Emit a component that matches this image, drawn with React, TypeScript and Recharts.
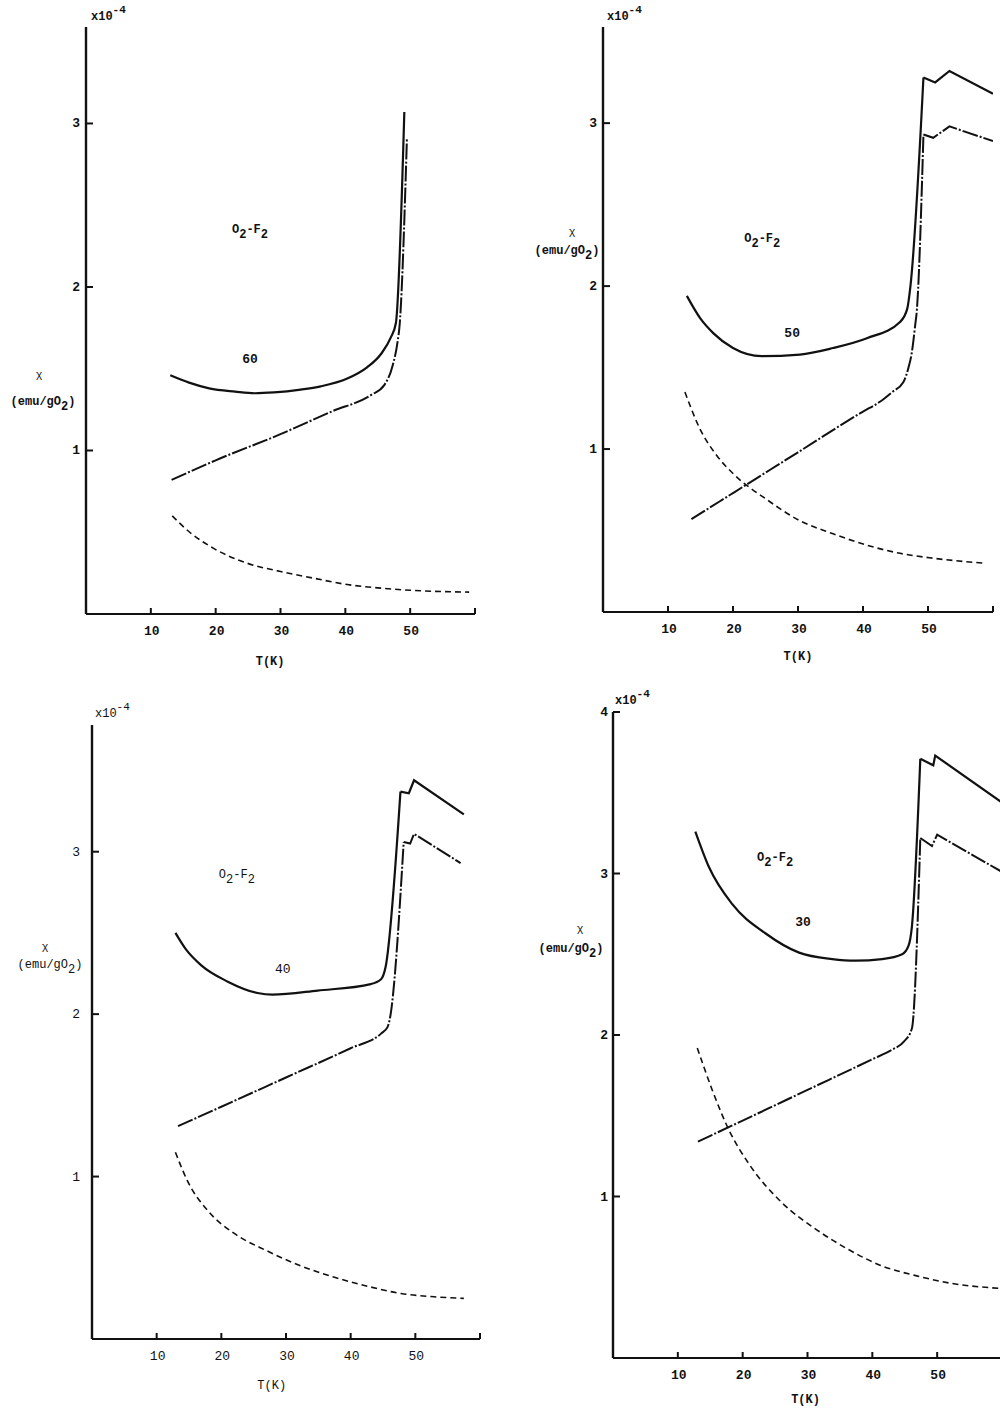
import React from 'react';
import { LineChart, Line, XAxis, YAxis, ReferenceDot } from 'recharts';

type Pt = { t: number; v: number };
type Seg = [string, ('sub' | 'sup')?];

const INK = '#111';
const FONT = '"Liberation Mono", "DejaVu Sans Mono", monospace';

// temperature ticks (K); 60 only closes the axis
const tempTicks = [10, 20, 30, 40, 50, 60];
const chiTicks = [1, 2, 3];
const chiTicksTall = [1, 2, 3, 4];

const curveLabels = ['60', '50', '40', '30'];

// chi in units of 1e-4 emu/gO2
const solid60: Pt[] = [
  { t: 13.0, v: 1.46 }, { t: 15.9, v: 1.415 }, { t: 19.0, v: 1.38 }, { t: 23.0, v: 1.36 },
  { t: 26.0, v: 1.35 }, { t: 29.0, v: 1.355 }, { t: 33.1, v: 1.372 }, { t: 36.2, v: 1.392 },
  { t: 40.3, v: 1.44 }, { t: 43.4, v: 1.51 }, { t: 45.5, v: 1.59 }, { t: 47.0, v: 1.69 },
  { t: 47.8, v: 1.78 }, { t: 49.1, v: 3.07 },
];
const dashDot60: Pt[] = [
  { t: 13.2, v: 0.82 }, { t: 20, v: 0.94 }, { t: 30, v: 1.1 }, { t: 38, v: 1.24 },
  { t: 44.0, v: 1.34 }, { t: 46.0, v: 1.4 }, { t: 47.3, v: 1.52 }, { t: 48.0, v: 1.65 },
  { t: 48.4, v: 1.78 }, { t: 49.5, v: 2.91 },
];
const dashed60: Pt[] = [
  { t: 13.3, v: 0.6 }, { t: 16, v: 0.5 }, { t: 19.75, v: 0.4 }, { t: 24.9, v: 0.31 },
  { t: 30, v: 0.26 }, { t: 35, v: 0.22 }, { t: 40.3, v: 0.18 }, { t: 45, v: 0.16 },
  { t: 50.1, v: 0.145 }, { t: 55, v: 0.137 }, { t: 59.1, v: 0.134 },
];

const solid50: Pt[] = [
  { t: 12.9, v: 1.94 }, { t: 15, v: 1.8 }, { t: 17, v: 1.71 }, { t: 20, v: 1.62 },
  { t: 24.4, v: 1.57 }, { t: 30.3, v: 1.58 }, { t: 35.4, v: 1.62 }, { t: 40.6, v: 1.68 },
  { t: 45.7, v: 1.78 }, { t: 46.8, v: 1.86 }, { t: 47.3, v: 2.0 }, { t: 49.3, v: 3.28 },
];
const solid50Tail: Pt[] = [
  { t: 49.3, v: 3.28 }, { t: 51.1, v: 3.25 }, { t: 53.3, v: 3.32 }, { t: 60, v: 3.18 },
];
const dashDot50: Pt[] = [
  { t: 13.6, v: 0.57 }, { t: 20, v: 0.73 }, { t: 30, v: 0.98 }, { t: 40, v: 1.23 },
  { t: 42.6, v: 1.29 }, { t: 44.5, v: 1.35 }, { t: 46.2, v: 1.41 }, { t: 47.0, v: 1.5 },
  { t: 47.5, v: 1.59 }, { t: 48.0, v: 1.75 }, { t: 48.3, v: 1.86 }, { t: 49.3, v: 2.93 },
];
const dashDot50Tail: Pt[] = [
  { t: 49.3, v: 2.93 }, { t: 50.8, v: 2.91 }, { t: 53.3, v: 2.98 }, { t: 60, v: 2.89 },
];
const dashed50: Pt[] = [
  { t: 12.6, v: 1.35 }, { t: 14.9, v: 1.125 }, { t: 17.5, v: 0.96 }, { t: 20, v: 0.85 },
  { t: 25.2, v: 0.69 }, { t: 30.3, v: 0.56 }, { t: 35.4, v: 0.48 }, { t: 40.6, v: 0.41 },
  { t: 45.7, v: 0.36 }, { t: 50.8, v: 0.33 }, { t: 58.5, v: 0.3 },
];

const solid40: Pt[] = [
  { t: 12.9, v: 2.5 }, { t: 14.5, v: 2.4 }, { t: 16.9, v: 2.3 }, { t: 21.0, v: 2.2 },
  { t: 25.6, v: 2.13 }, { t: 27.9, v: 2.12 }, { t: 34.9, v: 2.145 }, { t: 43.1, v: 2.185 },
  { t: 44.7, v: 2.215 }, { t: 45.4, v: 2.29 }, { t: 47.7, v: 3.37 },
];
const solid40Tail: Pt[] = [
  { t: 47.7, v: 3.37 }, { t: 49.0, v: 3.36 }, { t: 49.8, v: 3.44 }, { t: 57.5, v: 3.23 },
];
const dashDot40: Pt[] = [
  { t: 13.3, v: 1.31 }, { t: 20, v: 1.43 }, { t: 30, v: 1.61 }, { t: 40, v: 1.79 },
  { t: 44.7, v: 1.88 }, { t: 45.7, v: 1.92 }, { t: 46.0, v: 1.96 }, { t: 48.2, v: 3.06 },
];
const dashDot40Tail: Pt[] = [
  { t: 48.2, v: 3.06 }, { t: 49.2, v: 3.05 }, { t: 49.8, v: 3.11 }, { t: 57.0, v: 2.93 },
];
const dashed40: Pt[] = [
  { t: 12.9, v: 1.15 }, { t: 14.8, v: 0.97 }, { t: 17.9, v: 0.79 }, { t: 22.0, v: 0.65 },
  { t: 27.2, v: 0.54 }, { t: 32.3, v: 0.45 }, { t: 37.5, v: 0.38 }, { t: 42.6, v: 0.325 },
  { t: 47.8, v: 0.28 }, { t: 52.9, v: 0.26 }, { t: 57.5, v: 0.25 },
];

const solid30: Pt[] = [
  { t: 12.7, v: 3.26 }, { t: 14.8, v: 3.04 }, { t: 18.4, v: 2.81 }, { t: 23.5, v: 2.63 },
  { t: 28.7, v: 2.51 }, { t: 33.8, v: 2.47 }, { t: 37.4, v: 2.46 }, { t: 41.5, v: 2.47 },
  { t: 44.6, v: 2.5 }, { t: 45.6, v: 2.555 }, { t: 46.1, v: 2.67 }, { t: 47.4, v: 3.71 },
];
const solid30Tail: Pt[] = [
  { t: 47.4, v: 3.71 }, { t: 49.4, v: 3.67 }, { t: 49.7, v: 3.73 }, { t: 60, v: 3.44 },
];
const dashDot30: Pt[] = [
  { t: 13.1, v: 1.34 }, { t: 20, v: 1.47 }, { t: 30, v: 1.66 }, { t: 40, v: 1.85 },
  { t: 43.1, v: 1.91 }, { t: 44.9, v: 1.96 }, { t: 46.1, v: 2.04 }, { t: 47.4, v: 3.22 },
];
const dashDot30Tail: Pt[] = [
  { t: 47.4, v: 3.22 }, { t: 49.2, v: 3.17 }, { t: 50.0, v: 3.24 }, { t: 60, v: 3.01 },
];
const dashed30: Pt[] = [
  { t: 13.0, v: 1.92 }, { t: 15.3, v: 1.66 }, { t: 17.9, v: 1.41 }, { t: 21.0, v: 1.2 },
  { t: 26.1, v: 0.96 }, { t: 31.2, v: 0.8 }, { t: 36.4, v: 0.67 }, { t: 41.5, v: 0.57 },
  { t: 46.7, v: 0.51 }, { t: 51.8, v: 0.465 }, { t: 60, v: 0.43 },
];

const formula: Seg[] = [['O'], ['2', 'sub'], ['-F'], ['2', 'sub']];
const unitText: Seg[] = [['(emu/gO'], ['2', 'sub'], [')']];
const expText: Seg[] = [['x10'], ['-4', 'sup']];

// page layout of each panel: axis corner, plot size, label spots
const panels = [
  {
    id: 'a', tag: curveLabels[0], axisX: 86, axisY: 614, top: 27, plotW: 389, yMax: 3.59,
    yTicks: chiTicks, tickDx: -6, bold: true,
    solid: solid60, solidTail: [] as Pt[], dashDot: dashDot60, dashDotTail: [] as Pt[], dashed: dashed60,
    formulaAt: { t: 25.3, v: 2.34 }, tagAt: { t: 25.3, v: 1.56 },
    chiAt: { dx: -47, v: 1.47 }, unitAt: { dx: -43, v: 1.3 }, kAt: { t: 28.4, dy: 51 }, expAt: { dx: 5, dy: -7 },
  },
  {
    id: 'b', tag: curveLabels[1], axisX: 603, axisY: 612, top: 27, plotW: 390, yMax: 3.59,
    yTicks: chiTicks, tickDx: -6, bold: true,
    solid: solid50, solidTail: solid50Tail, dashDot: dashDot50, dashDotTail: dashDot50Tail, dashed: dashed50,
    formulaAt: { t: 24.5, v: 2.28 }, tagAt: { t: 29.1, v: 1.71 },
    chiAt: { dx: -31, v: 2.34 }, unitAt: { dx: -36, v: 2.22 }, kAt: { t: 30, dy: 48 }, expAt: { dx: 4, dy: -7 },
  },
  {
    id: 'c', tag: curveLabels[2], axisX: 92, axisY: 1339, top: 725, plotW: 388, yMax: 3.78,
    yTicks: chiTicks, tickDx: -12, bold: false,
    solid: solid40, solidTail: solid40Tail, dashDot: dashDot40, dashDotTail: dashDot40Tail, dashed: dashed40,
    formulaAt: { t: 22.4, v: 2.85 }, tagAt: { t: 29.5, v: 2.28 },
    chiAt: { dx: -47, v: 2.42 }, unitAt: { dx: -42, v: 2.31 }, kAt: { t: 27.8, dy: 50 }, expAt: { dx: 3, dy: -8 },
  },
  {
    id: 'd', tag: curveLabels[3], axisX: 613, axisY: 1358, top: 712, plotW: 389, yMax: 4,
    yTicks: chiTicksTall, tickDx: -5, bold: true,
    solid: solid30, solidTail: solid30Tail, dashDot: dashDot30, dashDotTail: dashDot30Tail, dashed: dashed30,
    formulaAt: { t: 25, v: 3.09 }, tagAt: { t: 29.3, v: 2.7 },
    chiAt: { dx: -33, v: 2.66 }, unitAt: { dx: -42, v: 2.54 }, kAt: { t: 29.7, dy: 45 }, expAt: { dx: 2, dy: -8 },
  },
];

type TagProps = {
  viewBox?: { x: number; y: number; width?: number; height?: number };
  segs: Seg[];
  dx?: number;
  dy?: number;
  anchor?: 'start' | 'middle' | 'end';
  size?: number;
  bold?: boolean;
};

// text with sub/superscripts, placed around a reference point
const Tag = ({ viewBox, segs, dx = 0, dy = 0, anchor = 'middle', size = 12, bold = true }: TagProps) => {
  if (!viewBox) return null;
  const x = viewBox.x + (viewBox.width || 0) / 2 + dx;
  const y = viewBox.y + (viewBox.height || 0) / 2 + dy;
  let shift = 0;
  return (
    <text x={x} y={y} textAnchor={anchor} fontFamily={FONT} fontSize={size}
      fontWeight={bold ? 'bold' : 'normal'} fill={INK}>
      {segs.map(([s, kind], i) => {
        const target = kind === 'sub' ? 5 : kind === 'sup' ? -7 : 0;
        const d = target - shift;
        shift = target;
        return (
          <tspan key={i} dy={d} fontSize={kind === 'sup' ? size - 1 : size}>{s}</tspan>
        );
      })}
    </text>
  );
};

const TempTick = (props: any) => {
  const { x, y, payload, bold } = props;
  return (
    <g>
      <line x1={x} y1={y} x2={x} y2={y - 6} stroke={INK} strokeWidth={2} />
      {payload.value !== 60 && (
        <text x={x + 1} y={y + 21} textAnchor="middle" fontFamily={FONT} fontSize={13}
          fontWeight={bold ? 'bold' : 'normal'} fill={INK}>
          {payload.value}
        </text>
      )}
    </g>
  );
};

const ChiTick = (props: any) => {
  const { x, y, payload, bold, dx } = props;
  return (
    <g>
      <line x1={x} y1={y} x2={x + 7} y2={y} stroke={INK} strokeWidth={2} />
      <text x={x + dx} y={y + 4} textAnchor="end" fontFamily={FONT} fontSize={13}
        fontWeight={bold ? 'bold' : 'normal'} fill={INK}>
        {payload.value}
      </text>
    </g>
  );
};

const Panel = ({ p }: { p: (typeof panels)[number] }) => {
  const plotH = p.axisY - p.top;
  const W = 100 + p.plotW + 20;
  const H = 40 + plotH + 70;
  const lineBase = { type: 'monotone' as const, dataKey: 'v', dot: false, activeDot: false, isAnimationActive: false };
  const solidStyle = { stroke: INK, strokeWidth: 2.2 };
  const dashDotStyle = { stroke: INK, strokeWidth: 2, strokeDasharray: '16 2 2 2' };
  const dashedStyle = { stroke: INK, strokeWidth: 1.6, strokeDasharray: '6 4' };
  const mark = { r: 0, fill: 'none', stroke: 'none', ifOverflow: 'visible' as const };

  return (
    <div style={{ position: 'absolute', left: p.axisX - 100, top: p.top - 40, width: W, height: H }}>
      <LineChart width={W} height={H} margin={{ top: 40, right: 20, bottom: 0, left: 0 }}>
        <XAxis type="number" dataKey="t" domain={[0, 60]} ticks={tempTicks} interval={0}
          allowDataOverflow height={70} tickSize={0} tickMargin={0} tickLine={false}
          axisLine={{ stroke: INK, strokeWidth: 2 }} tick={<TempTick bold={p.bold} />} />
        <YAxis type="number" domain={[0, p.yMax]} ticks={p.yTicks} interval={0}
          allowDataOverflow width={100} tickSize={0} tickMargin={0} tickLine={false}
          axisLine={{ stroke: INK, strokeWidth: 2.4 }} tick={<ChiTick bold={p.bold} dx={p.tickDx} />} />

        <Line {...lineBase} {...solidStyle} data={p.solid} />
        {p.solidTail.length > 0 && <Line {...lineBase} {...solidStyle} type="linear" data={p.solidTail} />}
        <Line {...lineBase} {...dashDotStyle} data={p.dashDot} />
        {p.dashDotTail.length > 0 && <Line {...lineBase} {...dashDotStyle} type="linear" data={p.dashDotTail} />}
        <Line {...lineBase} {...dashedStyle} data={p.dashed} />

        <ReferenceDot {...mark} x={p.formulaAt.t} y={p.formulaAt.v}
          label={<Tag segs={formula} dy={2} bold={p.bold} />} />
        <ReferenceDot {...mark} x={p.tagAt.t} y={p.tagAt.v}
          label={<Tag segs={[[p.tag]]} dy={4} size={13} bold={p.bold} />} />
        <ReferenceDot {...mark} x={0} y={p.chiAt.v}
          label={<Tag segs={[['χ']]} dx={p.chiAt.dx} dy={4} size={11} bold={false} />} />
        <ReferenceDot {...mark} x={0} y={p.unitAt.v}
          label={<Tag segs={unitText} dx={p.unitAt.dx} dy={4} bold={p.bold} />} />
        <ReferenceDot {...mark} x={0} y={p.yMax}
          label={<Tag segs={expText} dx={p.expAt.dx} dy={p.expAt.dy} anchor="start" bold={p.bold} />} />
        <ReferenceDot {...mark} x={p.kAt.t} y={0}
          label={<Tag segs={[['T(K)']]} dy={p.kAt.dy} bold={p.bold} />} />
      </LineChart>
    </div>
  );
}

export default function App() {
  return (
    <div style={{ position: 'absolute', left: 0, top: 0, width: 1000, height: 1409, overflow: 'hidden', background: '#fff' }}>
      {panels.map((p) => (
        <Panel key={p.id} p={p} />
      ))}
    </div>
  );
}
